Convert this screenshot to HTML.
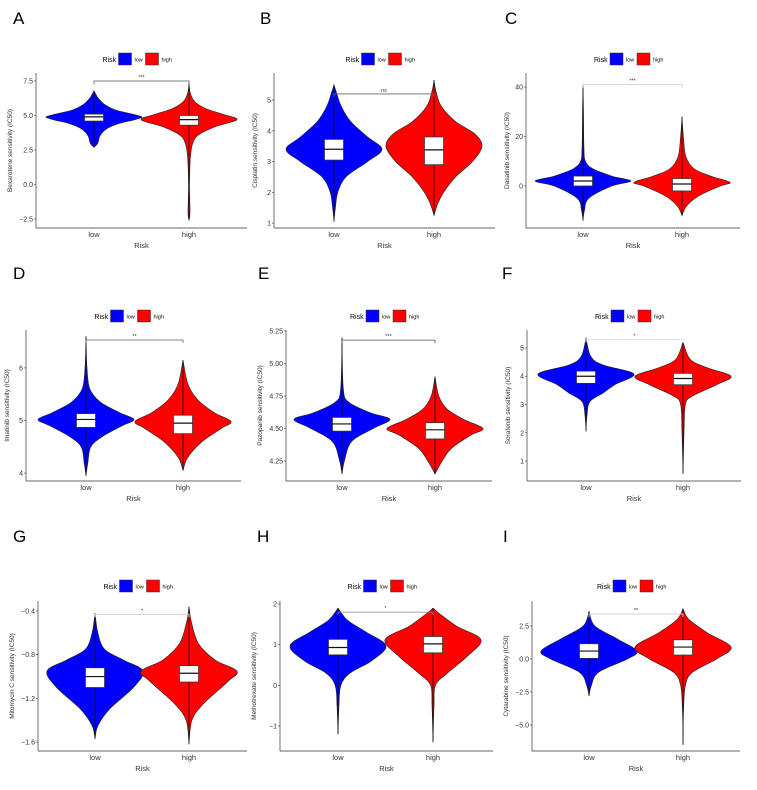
<!DOCTYPE html>
<html><head><meta charset="utf-8"><style>
html,body{margin:0;padding:0;background:#fff}
svg{display:block;font-family:"Liberation Sans",Arial,sans-serif}
</style></head><body>
<svg id="fig" width="757" height="790" viewBox="0 0 757 790"></svg>
<script>
const panelLetters=["A","B","C","D","E","F","G","H","I"];
const drugTitles=["Bexarotene sensitivity (IC50)","Cisplatin sensitivity (IC50)","Dasatinib sensitivity (IC50)","Imatinib sensitivity (IC50)","Pazopanib sensitivity (IC50)","Sorafenib sensitivity (IC50)","Mitomycin C sensitivity (IC50)","Methotrexate sensitivity (IC50)","Cytarabine sensitivity (IC50)"];
const tickValues=[[-2.5,0,2.5,5,7.5],[1,2,3,4,5],[0,20,40],[4,5,6],[4.25,4.5,4.75,5,5.25],[1,2,3,4,5],[-1.6,-1.2,-0.8,-0.4],[-1,0,1,2],[-5,-2.5,0,2.5]];
const tickLabels=[["−2.5","0.0","2.5","5.0","7.5"],["1","2","3","4","5"],["0","20","40"],["4","5","6"],["4.25","4.50","4.75","5.00","5.25"],["1","2","3","4","5"],["−1.6","−1.2","−0.8","−0.4"],["−1","0","1","2"],["−5.0","−2.5","0.0","2.5"]];
const yDomains=[[-3.15,8.08],[0.84,5.88],[-17,45.7],[3.85,6.72],[4.096,5.258],[0.294,5.635],[-1.682,-0.308],[-1.616,2.074],[-6.97,4.39]];
const signifLabels=["***","ns","***","**","***","*","*","*","**"];
const signifY=[7.5,5.2,41,6.53,5.18,5.3,-0.43,1.8,3.4];
const boxLow=[[4.6,4.9,5.1],[3.05,3.4,3.72],[0,2,4],[4.87,5.02,5.13],[4.48,4.535,4.585],[3.75,4.0,4.18],[-1.1,-1.0,-0.92],[0.75,0.93,1.13],[0.05,0.6,1.15]];
const boxHigh=[[4.3,4.7,5.0],[2.9,3.38,3.8],[-2,0.8,3],[4.75,4.95,5.1],[4.42,4.49,4.545],[3.7,3.92,4.1],[-1.05,-0.97,-0.9],[0.8,1.02,1.2],[0.3,0.9,1.45]];
const violinLow=[
[[2.7,0],[3.0,0.08],[3.5,0.12],[4.0,0.25],[4.4,0.5],[4.7,0.85],[4.9,1],[5.1,0.8],[5.4,0.45],[5.8,0.22],[6.3,0.08],[6.8,0]],
[[1.05,0],[1.5,0.03],[2,0.08],[2.5,0.25],[3,0.7],[3.4,1],[3.8,0.7],[4.3,0.35],[4.8,0.15],[5.3,0.04],[5.5,0]],
[[-14,0],[-10,0.03],[-5,0.12],[0,0.6],[2,1],[4,0.6],[7,0.2],[10,0.05],[15,0.02],[30,0.01],[41,0]],
[[3.95,0],[4.2,0.04],[4.5,0.1],[4.7,0.35],[4.9,0.75],[5.02,1],[5.15,0.7],[5.35,0.3],[5.6,0.08],[6.0,0.02],[6.6,0]],
[[4.15,0],[4.25,0.05],[4.4,0.2],[4.5,0.65],[4.57,1],[4.62,0.6],[4.7,0.15],[4.8,0.03],[5.2,0]],
[[2.05,0],[2.6,0.02],[3.1,0.08],[3.4,0.35],[3.7,0.6],[4.08,1],[4.4,0.35],[4.7,0.1],[5.35,0]],
[[-1.57,0],[-1.45,0.06],[-1.3,0.3],[-1.1,0.8],[-0.95,1],[-0.85,0.6],[-0.75,0.2],[-0.6,0.06],[-0.42,0]],
[[-1.2,0],[-0.5,0.02],[0,0.06],[0.3,0.25],[0.6,0.7],[0.97,1],[1.3,0.6],[1.6,0.2],[1.9,0]],
[[-2.8,0],[-2,0.05],[-1,0.2],[0,0.8],[0.6,1],[1.5,0.6],[2.5,0.12],[3.6,0]]];
const violinHigh=[
[[-2.6,0],[-2,0.02],[0,0.01],[2,0.03],[3,0.08],[3.6,0.2],[4.2,0.55],[4.7,1],[5.1,0.7],[5.5,0.35],[6,0.12],[6.6,0.03],[7.3,0]],
[[1.25,0],[1.6,0.07],[2,0.2],[2.5,0.45],[3,0.8],[3.5,1],[3.9,0.85],[4.3,0.45],[4.8,0.15],[5.3,0.04],[5.65,0]],
[[-12,0],[-8,0.1],[-4,0.35],[0,0.8],[1.5,1],[4,0.6],[7,0.25],[12,0.08],[20,0.03],[28,0]],
[[4.05,0],[4.3,0.1],[4.6,0.4],[4.85,0.8],[4.98,1],[5.15,0.65],[5.4,0.3],[5.7,0.1],[6.15,0]],
[[4.15,0],[4.25,0.15],[4.35,0.35],[4.45,0.75],[4.5,1],[4.57,0.6],[4.65,0.25],[4.75,0.08],[4.9,0]],
[[0.55,0],[2,0.02],[3,0.05],[3.3,0.2],[3.7,0.7],[4.0,1],[4.3,0.5],[4.6,0.15],[5.2,0]],
[[-1.62,0],[-1.4,0.06],[-1.25,0.3],[-1.05,0.8],[-0.95,1],[-0.85,0.55],[-0.7,0.2],[-0.5,0.05],[-0.36,0]],
[[-1.4,0],[-0.5,0.02],[0,0.05],[0.3,0.3],[0.7,0.7],[1.12,1],[1.45,0.5],[1.75,0.15],[1.9,0]],
[[-6.5,0],[-4,0.01],[-2,0.05],[-1,0.2],[0,0.7],[0.9,1],[2,0.5],[3,0.12],[3.8,0]]];
const categories=["low","high"];

// layout (pixel geometry, not data)
const geo=[
{l:36,r:247,t:73,b:228,xl:94,xh:189,ly:59,lx:13,lty:24},
{l:274,r:495,t:73,b:228,xl:334,xh:434,ly:59,lx:260,lty:24},
{l:526,r:740,t:73,b:228,xl:583,xh:682,ly:59,lx:505,lty:24},
{l:26,r:241,t:330,b:481,xl:86,xh:183,ly:316,lx:13,lty:279},
{l:286,r:492,t:330,b:481,xl:342,xh:435,ly:316,lx:258,lty:279},
{l:527,r:741,t:330,b:481,xl:586,xh:683,ly:316,lx:502,lty:279},
{l:38,r:247,t:601,b:751,xl:95,xh:189,ly:586,lx:13,lty:542},
{l:280,r:493,t:601,b:751,xl:338,xh:433,ly:586,lx:257,lty:542},
{l:532,r:740,t:601,b:751,xl:589,xh:683,ly:586,lx:503,lty:542}];
const bracketColor=["#555","#666","#ccc","#666","#555","#ddd","#ccc","#888","#ccc"];
const NS="http://www.w3.org/2000/svg";
const svg=document.getElementById("fig");
function mk(tag,attrs,parent){const e=document.createElementNS(NS,tag);for(const k in attrs)e.setAttribute(k,attrs[k]);(parent||svg).appendChild(e);return e;}
function smoothPath(pts){let d="M"+pts[0][0].toFixed(1)+","+pts[0][1].toFixed(1);
for(let i=0;i<pts.length-1;i++){const p0=pts[Math.max(0,i-1)],p1=pts[i],p2=pts[i+1],p3=pts[Math.min(pts.length-1,i+2)];
const c1=[p1[0]+(p2[0]-p0[0])/6,p1[1]+(p2[1]-p0[1])/6],c2=[p2[0]-(p3[0]-p1[0])/6,p2[1]-(p3[1]-p1[1])/6];
d+="C"+c1.map(v=>v.toFixed(1)).join(",")+" "+c2.map(v=>v.toFixed(1)).join(",")+" "+p2.map(v=>v.toFixed(1)).join(",");}return d;}

for(let p=0;p<9;p++){
 const g=geo[p];
 const grp=mk("g",{});
 
 
 const dom=yDomains[p];
 const y=v=>g.b-(v-dom[0])/(dom[1]-dom[0])*(g.b-g.t);
 const xs=[g.xl,g.xh];
 const L=mk("text",{x:g.lx,y:g.lty,"font-size":17,fill:"#000"},grp);L.textContent=panelLetters[p];
 
 
 // legend
 const cx=(g.l+g.r)/2;
 const lg=mk("g",{},grp);
 
 
 const lt=mk("text",{x:cx-39,y:g.ly+3,"font-size":7,fill:"#000"},lg);lt.textContent="Risk";
 mk("rect",{x:cx-23,y:g.ly-6,width:13,height:12,fill:"#0000ff",stroke:"#333","stroke-width":0.5},lg);
 const t1=mk("text",{x:cx-7,y:g.ly+2.5,"font-size":5.5,fill:"#000"},lg);t1.textContent="low";
 mk("rect",{x:cx+4,y:g.ly-6,width:13,height:12,fill:"#ff0000",stroke:"#333","stroke-width":0.5},lg);
 const t2=mk("text",{x:cx+20,y:g.ly+2.5,"font-size":5.5,fill:"#000"},lg);t2.textContent="high";
 // violins
 const vs=[violinLow[p],violinHigh[p]],cols=["#0000ff","#ff0000"],boxes=[boxLow[p],boxHigh[p]];
 for(let k=0;k<2;k++){
  const prof=vs[k],W=48;
  const right=prof.map(q=>[xs[k]+q[1]*W,y(q[0])]);
  const left=prof.slice().reverse().map(q=>[xs[k]-q[1]*W,y(q[0])]);
  const v=mk("path",{d:smoothPath(right)+" L"+smoothPath(left).slice(1)+"Z",fill:cols[k],stroke:"#222","stroke-width":0.6},grp);
  
  
  const wl=mk("line",{x1:xs[k],x2:xs[k],y1:y(prof[0][0]),y2:y(prof[prof.length-1][0]),stroke:"#111","stroke-width":0.8},grp);
  
  
  const bx=boxes[k];
  const b=mk("rect",{x:xs[k]-9.5,y:y(bx[2]),width:19,height:y(bx[0])-y(bx[2]),fill:"#fff",stroke:"#333","stroke-width":0.7},grp);
  
  
  mk("line",{x1:xs[k]-9.5,x2:xs[k]+9.5,y1:y(bx[1]),y2:y(bx[1]),stroke:"#111","stroke-width":1.2},grp);
  const xl=mk("text",{x:xs[k],y:g.b+9,"font-size":7.5,"text-anchor":"middle",fill:"#333"},grp);xl.textContent=categories[k];
  
  
 }
 // bracket
 const by=y(signifY[p]);
 const br=mk("path",{d:`M${g.xl},${by+3}V${by}H${g.xh}V${by+3}`,fill:"none",stroke:bracketColor[p],"stroke-width":0.8},grp);
 
 
 const st=mk("text",{x:(g.xl+g.xh)/2,y:by-2,"font-size":5.5,"text-anchor":"middle",fill:"#333"},grp);st.textContent=signifLabels[p];
 // axes
 mk("line",{x1:g.l,x2:g.l,y1:g.t,y2:g.b,stroke:"#333","stroke-width":0.7},grp);
 mk("line",{x1:g.l,x2:g.r,y1:g.b,y2:g.b,stroke:"#333","stroke-width":0.7},grp);
 tickValues[p].forEach((tv,i)=>{const ty=y(tv);
  mk("line",{x1:g.l-2,x2:g.l,y1:ty,y2:ty,stroke:"#333","stroke-width":0.6},grp);
  const tt=mk("text",{x:g.l-3,y:ty+2.5,"font-size":7,"text-anchor":"end",fill:"#333"},grp);tt.textContent=tickLabels[p][i];
  
  });
 const xt=mk("text",{x:cx,y:g.b+20,"font-size":7.5,"text-anchor":"middle",fill:"#333"},grp);xt.textContent="Risk";
 
 
 const yx=g.l-(p==3||p==5||p==2||p==1?17:24), ym=(g.t+g.b)/2;
 const yt=mk("text",{x:yx,y:ym,"font-size":6.5,"text-anchor":"middle",fill:"#333",transform:`rotate(-90 ${yx} ${ym})`},grp);yt.textContent=drugTitles[p];
 
 
}
</script>
</body></html>
